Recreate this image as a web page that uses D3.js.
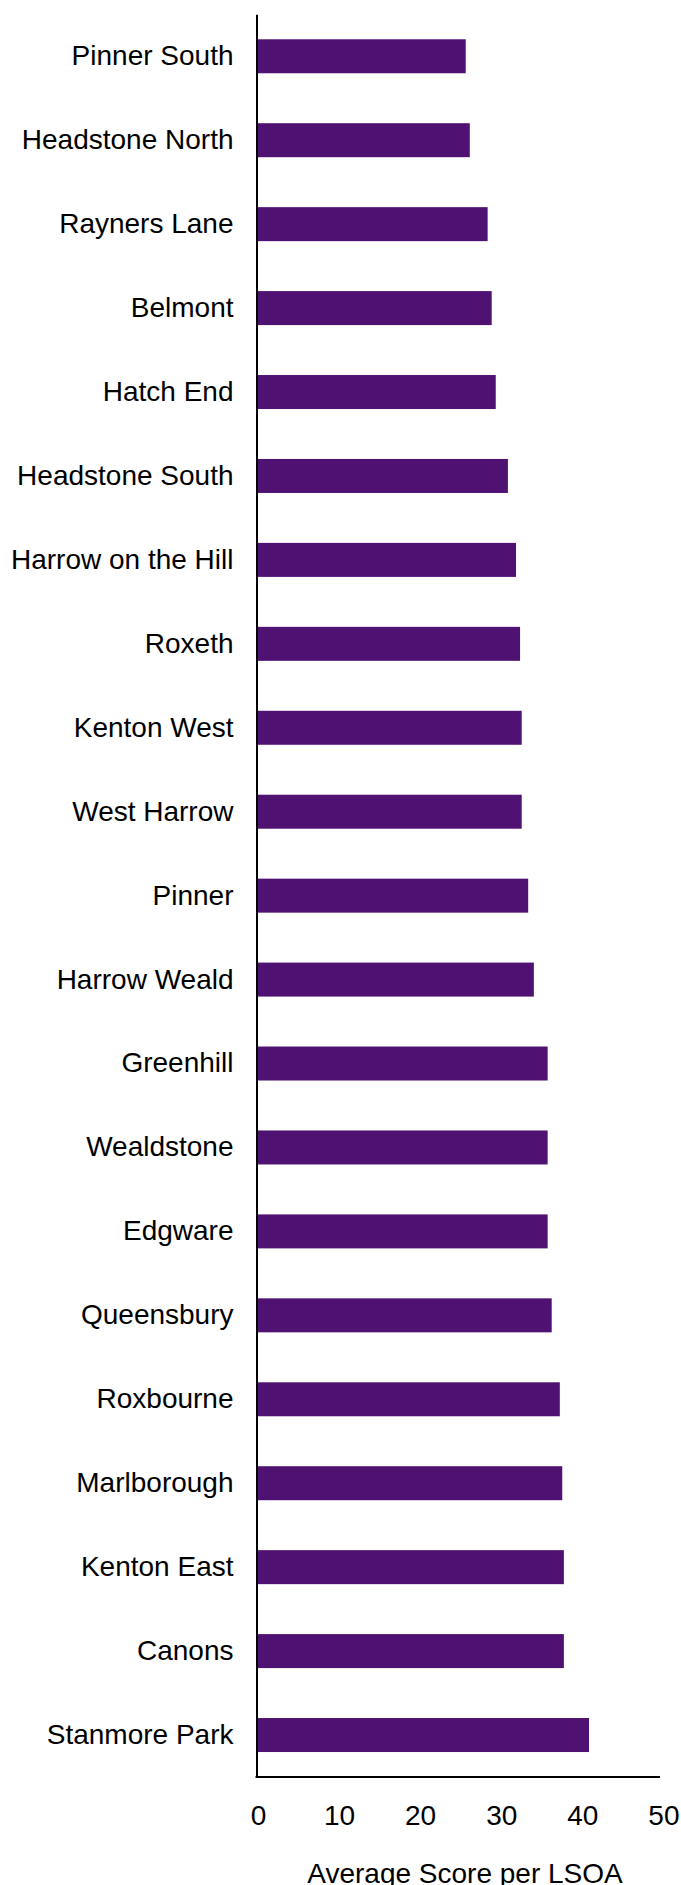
<!DOCTYPE html>
<html>
<head>
<meta charset="utf-8">
<script src="https://cdn.jsdelivr.net/npm/d3@7"></script>
<style>
  body { margin: 0; background: #fff; }
  text { font-family: "Liberation Sans", Arial, sans-serif; fill: #000; }
</style>
</head>
<body>
<div id="chart"></div>
<script>
// wards, top to bottom
const wards = [
  "Pinner South", "Headstone North", "Rayners Lane", "Belmont", "Hatch End",
  "Headstone South", "Harrow on the Hill", "Roxeth", "Kenton West", "West Harrow",
  "Pinner", "Harrow Weald", "Greenhill", "Wealdstone", "Edgware",
  "Queensbury", "Roxbourne", "Marlborough", "Kenton East", "Canons", "Stanmore Park"
];
const scores = [
  25.8, 26.3, 28.5, 29.0, 29.5,
  31.0, 32.0, 32.5, 32.7, 32.7,
  33.5, 34.2, 35.9, 35.9, 35.9,
  36.4, 37.4, 37.7, 37.9, 37.9, 41.0
];
const xTicks = [0, 10, 20, 30, 40, 50];
const xTitle = "Average Score per LSOA";

const width = 681, height = 1885;
const plotLeft = 256.5, plotRight = 662, plotTop = 14.3, plotBottom = 1777;

const svg = d3.select("#chart").append("svg")
  .attr("width", width)
  .attr("height", height);

const x = d3.scaleLinear().domain([0, 50]).range([plotLeft, plotRight]);
const y = d3.scaleBand().domain(wards).range([plotTop, plotBottom])
  .paddingInner(0.595).paddingOuter(0.2975);

// bars
svg.selectAll("rect.bar")
  .data(wards)
  .enter()
  .append("rect")
  .attr("class", "bar")
  .attr("x", x(0))
  .attr("y", (d) => y(d))
  .attr("width", (d, i) => x(scores[i]) - x(0))
  .attr("height", y.bandwidth())
  .attr("fill", "#501272");

// y axis
const yAxis = svg.append("g")
  .attr("transform", "translate(" + plotLeft + ",0)")
  .call(d3.axisLeft(y).tickSize(0).tickPadding(23));
yAxis.select(".domain").attr("stroke", "#000").attr("stroke-width", 2);
yAxis.selectAll("text").style("font-size", "28px").attr("font-family", null);

// x axis
const xAxis = svg.append("g")
  .attr("transform", "translate(0," + plotBottom + ")")
  .call(d3.axisBottom(x).tickValues(xTicks).tickSize(0).tickPadding(28));
xAxis.select(".domain").attr("stroke", "#000").attr("stroke-width", 2)
  .attr("d", "M" + (plotLeft - 1) + ",0H660");
xAxis.selectAll("text").style("font-size", "28px").attr("font-family", null)
  .attr("dx", "0.05em");

// axis title
svg.append("text")
  .attr("x", 465)
  .attr("y", 1882.5)
  .attr("text-anchor", "middle")
  .style("font-size", "28px")
  .text(xTitle);
</script>
</body>
</html>
